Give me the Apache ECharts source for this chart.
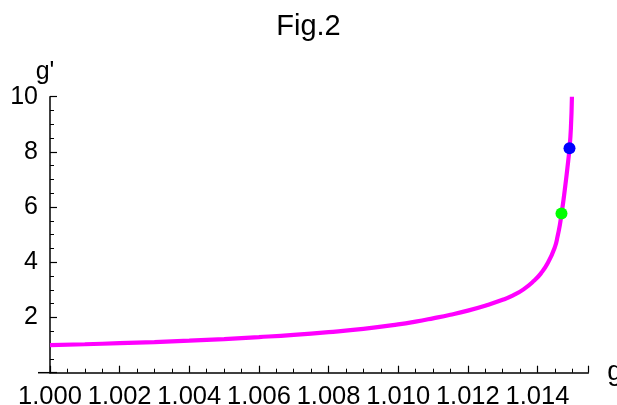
<!DOCTYPE html>
<html>
<head>
<meta charset="utf-8">
<script src="https://cdn.jsdelivr.net/npm/echarts@6/dist/echarts.min.js"></script>
<style>
html,body{margin:0;padding:0;background:#fff;}
#c{width:617px;height:405px;}
</style>
</head>
<body>
<div id="c"></div>
<script>
// Curve g -> g'
var gVals  = [1.0000, 1.0010, 1.0020, 1.0030, 1.0040, 1.0050, 1.0060, 1.0070, 1.0080, 1.0090, 1.0100, 1.0105, 1.0110, 1.0115, 1.0120, 1.0125, 1.0130, 1.0133, 1.0136, 1.0139, 1.0141, 1.0143, 1.0145, 1.01458, 1.01464, 1.01469, 1.01475, 1.0148, 1.01486, 1.01492, 1.01496, 1.01499];
var gpVals = [1.00, 1.03, 1.07, 1.11, 1.16, 1.22, 1.29, 1.37, 1.47, 1.59, 1.75, 1.85, 1.97, 2.10, 2.25, 2.43, 2.64, 2.80, 3.02, 3.33, 3.60, 3.98, 4.55, 4.95, 5.33, 5.75, 6.28, 6.78, 7.42, 8.13, 8.85, 10.00];
// Marked points
var bluePoint  = [1.01492, 8.13];
var greenPoint = [1.01469, 5.77];
// Axis settings
var xMin = 1.000, xMax = 1.01546, xStep = 0.002;
var yMin = 0, yMax = 10, yStep = 2;
var titleText = 'Fig.2';
var xName = 'g', yName = "g'";

var FONT = 'Liberation Sans';
var curve = gVals.map(function (g, i) { return [g, gpVals[i]]; });

var chart = echarts.init(document.getElementById('c'));
chart.setOption({
  animation: false,
  backgroundColor: '#fff',
  title: {
    text: titleText, left: 'center', top: 7,
    textStyle: { fontFamily: FONT, fontSize: 29, fontWeight: 'normal', color: '#000' }
  },
  grid: { left: 50, right: 28.7, top: 96.7, bottom: 32.3, containLabel: false, outerBoundsMode: 'none' },
  xAxis: {
    type: 'value', min: xMin, max: xMax, interval: xStep,
    name: xName, nameLocation: 'end', nameGap: 19,
    nameTextStyle: { fontFamily: FONT, fontSize: 27, color: '#000', padding: [18, 0, 0, 0] },
    axisLine: { lineStyle: { color: '#000', width: 1.5 } },
    axisTick: { inside: true, length: 7, lineStyle: { color: '#000', width: 1.2 } },
    minorTick: { show: true, splitNumber: 4, length: 4, lineStyle: { color: '#000', width: 1 } },
    splitLine: { show: false },
    axisLabel: {
      showMaxLabel: false, margin: 11,
      fontFamily: FONT, fontSize: 25.5, color: '#000',
      formatter: function (v) { return v.toFixed(3); }
    }
  },
  yAxis: {
    type: 'value', min: yMin, max: yMax, interval: yStep,
    name: yName, nameLocation: 'end', nameGap: 12,
    nameTextStyle: { fontFamily: FONT, fontSize: 25, color: '#000', align: 'center', padding: [0, 10, 0, 0] },
    axisLine: { lineStyle: { color: '#000', width: 1.5 } },
    axisTick: { inside: true, length: 7, lineStyle: { color: '#000', width: 1.2 } },
    minorTick: { show: true, splitNumber: 4, length: 4, lineStyle: { color: '#000', width: 1 } },
    splitLine: { show: false },
    axisLabel: {
      margin: 12, fontFamily: FONT, fontSize: 25, color: '#000',
      formatter: function (v) { return v === 0 ? '' : String(v); }
    }
  },
  series: [
    {
      type: 'line', data: curve, showSymbol: false, smooth: 0.5,
      lineStyle: { color: '#ff00ff', width: 4.2 }, z: 2
    },
    {
      type: 'scatter', data: [bluePoint], symbolSize: 12,
      itemStyle: { color: '#0000ff', opacity: 1 }, z: 3
    },
    {
      type: 'scatter', data: [greenPoint], symbolSize: 12,
      itemStyle: { color: '#00ff00', opacity: 1 }, z: 3
    }
  ]
});

// small extension of the x axis line to the left of the y axis
var o = chart.convertToPixel({ gridIndex: 0 }, [xMin, yMin]);
chart.setOption({
  graphic: [{
    type: 'line', shape: { x1: o[0] - 12, y1: o[1], x2: o[0], y2: o[1] },
    style: { stroke: '#000', lineWidth: 1.5 }, z: 10
  }]
});
</script>
</body>
</html>
